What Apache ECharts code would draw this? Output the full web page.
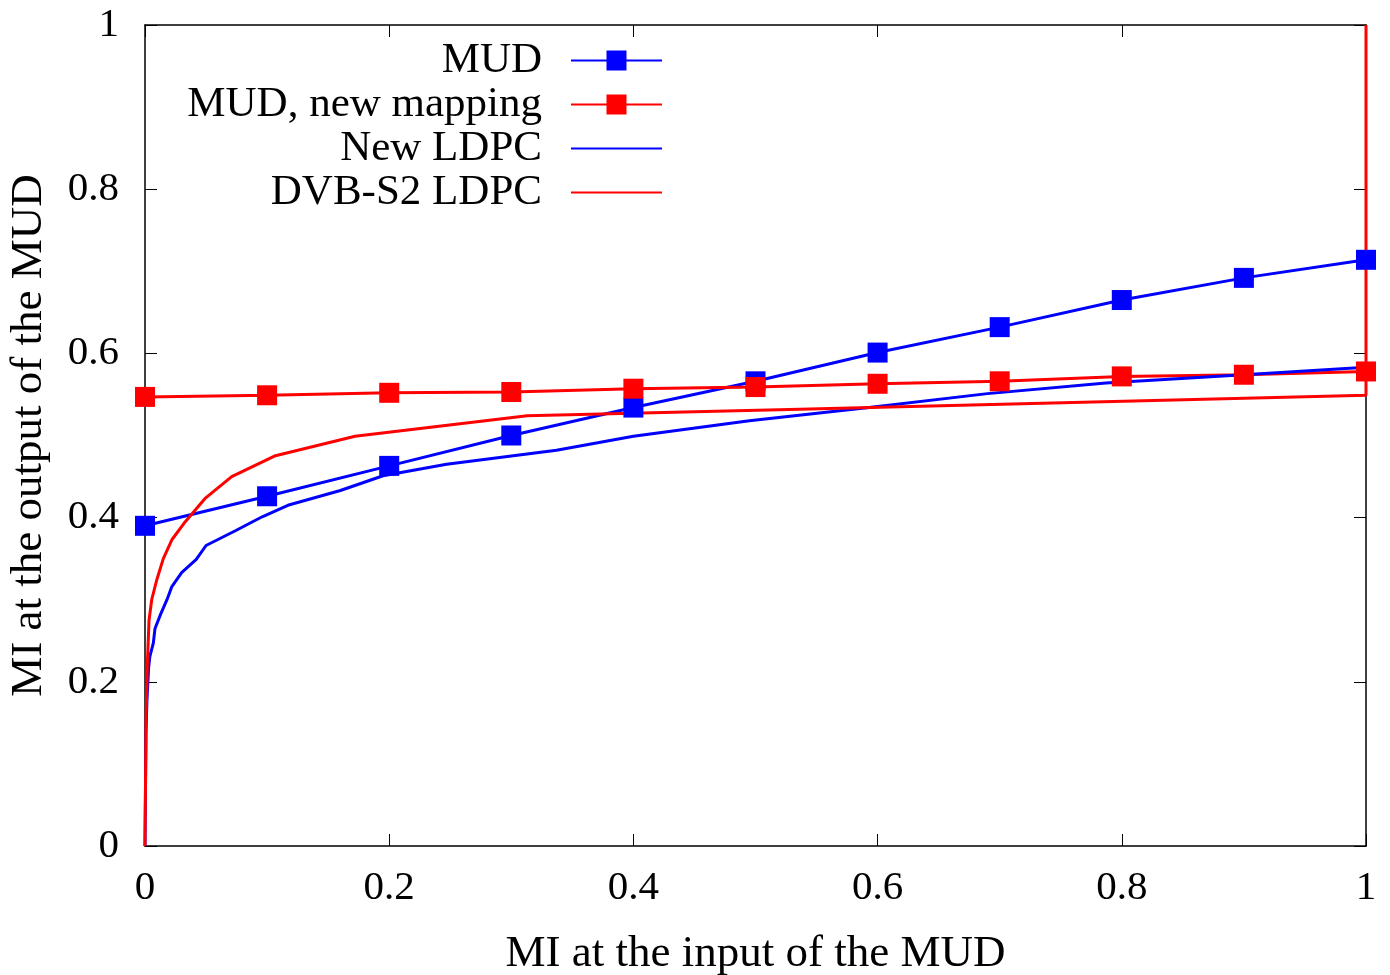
<!DOCTYPE html>
<html>
<head>
<meta charset="utf-8">
<script src="https://cdn.jsdelivr.net/npm/echarts@6/dist/echarts.min.js"></script>
<style>html,body{margin:0;padding:0;background:#fff}#c{width:1390px;height:975px}</style>
</head>
<body>
<div id="c"></div>
<script>
const seriesNames = ['MUD', 'MUD, new mapping', 'New LDPC', 'DVB-S2 LDPC'];
const mudX = [0, 0.1, 0.2, 0.3, 0.4, 0.5, 0.6, 0.7, 0.8, 0.9, 1.0];
const mudY = [0.390, 0.426, 0.463, 0.500, 0.534, 0.566, 0.601, 0.632, 0.665, 0.692, 0.714];
const mudNewY = [0.547, 0.549, 0.552, 0.553, 0.557, 0.559, 0.563, 0.566, 0.572, 0.574, 0.578];
const ldpcNewX = [0, 0.0008, 0.0016, 0.003, 0.004, 0.0068, 0.0082, 0.013, 0.018, 0.022, 0.030, 0.042, 0.050, 0.074, 0.096, 0.117, 0.160, 0.195, 0.247, 0.337, 0.400, 0.495, 0.593, 0.690, 0.787, 0.900, 1.0];
const ldpcNewY = [0, 0.137, 0.178, 0.218, 0.231, 0.247, 0.265, 0.283, 0.300, 0.316, 0.333, 0.349, 0.366, 0.384, 0.401, 0.415, 0.433, 0.451, 0.465, 0.482, 0.499, 0.518, 0.534, 0.551, 0.564, 0.574, 0.583];
const dvbX = [0, 0.0008, 0.0019, 0.0033, 0.0055, 0.0096, 0.015, 0.022, 0.033, 0.049, 0.071, 0.106, 0.172, 0.313, 0.536, 1.0, 1.0];
const dvbY = [0, 0.150, 0.220, 0.275, 0.300, 0.324, 0.350, 0.373, 0.395, 0.423, 0.450, 0.475, 0.499, 0.524, 0.532, 0.549, 1.0];
const xTicks = [0, 0.2, 0.4, 0.6, 0.8, 1];
const yTicks = [0, 0.2, 0.4, 0.6, 0.8, 1];
const xTitle = 'MI at the input of the MUD';
const yTitle = 'MI at the output of the MUD';

const FONT = '"Liberation Serif", "DejaVu Serif", serif';
const BLUE = '#0000ff', RED = '#ff0000';
const pairs = (xs, ys) => xs.map((x, i) => [x, ys[i]]);

const chart = echarts.init(document.getElementById('c'), null, {renderer: 'canvas'});

const legendTops = [59, 103, 147, 191];
const hasMarker = [true, true, false, false];
const legends = seriesNames.map((n, i) => ({
  data: [n],
  right: 727,
  top: legendTops[i] - 20,
  orient: 'vertical',
  align: 'right',
  padding: 0,
  itemWidth: 91,
  itemHeight: 25,
  selectedMode: false,
  itemStyle: hasMarker[i] ? {} : {color: 'rgba(0,0,0,0)', borderWidth: 0},
  textStyle: {fontFamily: FONT, fontSize: 43, color: '#000', padding: [0, 24, 0, 0]}
}));

const axisCommon = {
  type: 'value', min: 0, max: 1, interval: 0.2,
  splitLine: {show: false},
  axisLine: {show: true, onZero: false, lineStyle: {color: '#000', width: 1.5}},
  axisTick: {show: true, inside: true, length: 12, lineStyle: {color: '#000', width: 1}}
};

chart.setOption({
  animation: false,
  backgroundColor: '#fff',
  grid: {left: 145, right: 24, top: 25, bottom: 129, containLabel: false, outerBoundsMode: 'none'},
  legend: legends,
  xAxis: [
    Object.assign({}, axisCommon, {
      position: 'bottom',
      name: xTitle, nameLocation: 'middle', nameGap: 86,
      nameTextStyle: {fontFamily: FONT, fontSize: 45, color: '#000'},
      axisLabel: {fontFamily: FONT, fontSize: 41, color: '#000', margin: 22,
        formatter: v => xTicks.includes(+v.toFixed(1)) ? String(+v.toFixed(1)) : ''}
    }),
    Object.assign({}, axisCommon, {position: 'top', axisLabel: {show: false}})
  ],
  yAxis: [
    Object.assign({}, axisCommon, {
      position: 'left',
      name: yTitle, nameLocation: 'middle', nameGap: 93,
      nameTextStyle: {fontFamily: FONT, fontSize: 45, color: '#000'},
      axisLabel: {fontFamily: FONT, fontSize: 41, color: '#000', margin: 26,
        formatter: v => yTicks.includes(+v.toFixed(1)) ? String(+v.toFixed(1)) : ''}
    }),
    Object.assign({}, axisCommon, {position: 'right', axisLabel: {show: false}})
  ],
  series: [
    {name: seriesNames[0], type: 'line', data: pairs(mudX, mudY), symbol: 'rect', symbolSize: 20,
     itemStyle: {color: BLUE}, lineStyle: {color: BLUE, width: 3}},
    {name: seriesNames[1], type: 'line', data: pairs(mudX, mudNewY), symbol: 'rect', symbolSize: 20,
     itemStyle: {color: RED}, lineStyle: {color: RED, width: 3}},
    {name: seriesNames[2], type: 'line', data: pairs(ldpcNewX, ldpcNewY), symbol: 'none',
     itemStyle: {color: BLUE}, lineStyle: {color: BLUE, width: 3}},
    {name: seriesNames[3], type: 'line', data: pairs(dvbX, dvbY), symbol: 'none',
     itemStyle: {color: RED}, lineStyle: {color: RED, width: 3}}
  ]
});
</script>
</body>
</html>
